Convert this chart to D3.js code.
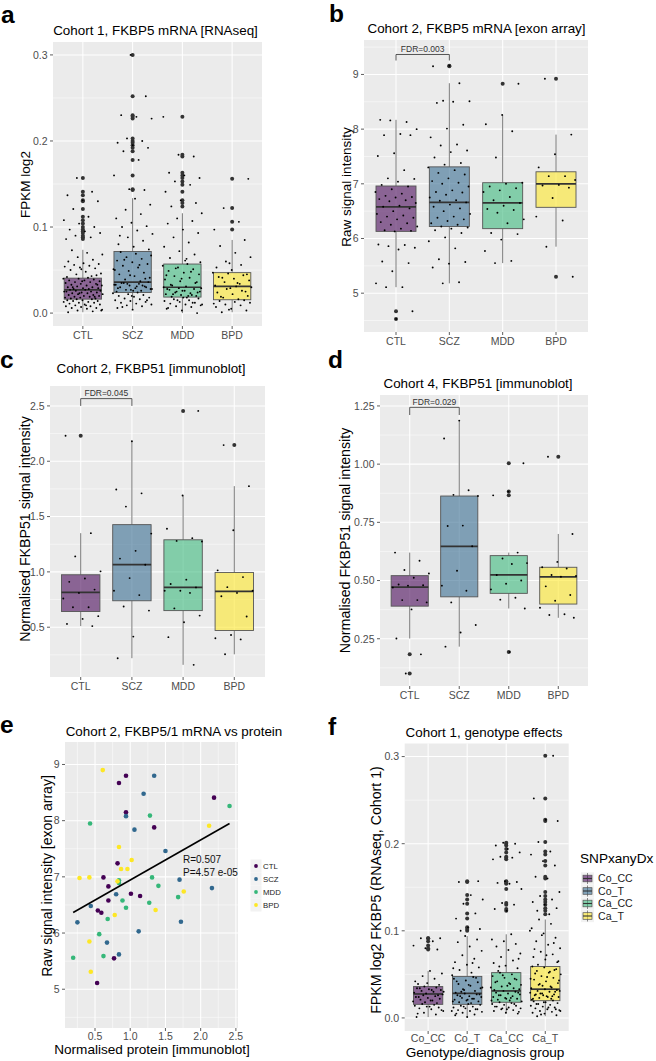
<!DOCTYPE html>
<html><head><meta charset="utf-8">
<script src="https://cdn.jsdelivr.net/npm/d3@7"></script>
<style>
body{margin:0;background:#fff;}
text{font-family:"Liberation Sans",Arial,Helvetica,sans-serif;}
</style></head><body>
<svg id="fig" width="656" height="1061"></svg>
<script>
// ---------------- DATA ----------------
const dxCats = ["CTL","SCZ","MDD","BPD"];
const snpCats = ["Co_CC","Co_T","Ca_CC","Ca_T"];
const groupColors = ["#440154","#31688E","#35B779","#FDE725"];

// Panel a: Cohort 1 FKBP5 mRNA (RNAseq), box stats [lo,q1,med,q3,hi]
const aTicks = [0,0.1,0.2,0.3];
const aBox = [[0.001,0.0162,0.027,0.0406,0.0735],[0.004,0.024,0.036,0.0716,0.1335],[0.0,0.0186,0.030,0.057,0.116],[0.001,0.0155,0.031,0.047,0.085]];
const aCTL = [0.001,0.002,0.003,0.004,0.005,0.006,0.006,0.007,0.008,0.008,0.009,0.010,0.010,0.011,0.012,0.012,0.013,0.013,0.014,0.014,0.015,0.015,0.016,0.016,0.003,0.009,
0.017,0.017,0.018,0.018,0.019,0.019,0.020,0.020,0.021,0.021,0.022,0.022,0.023,0.023,0.024,0.024,0.025,0.025,0.026,0.026,0.027,0.027,0.019,0.023,0.025,
0.028,0.028,0.029,0.029,0.030,0.030,0.031,0.032,0.032,0.033,0.034,0.034,0.035,0.036,0.036,0.037,0.038,0.038,0.039,0.040,0.040,0.041,0.030,0.033,0.037,
0.042,0.043,0.045,0.046,0.048,0.050,0.052,0.053,0.054,0.055,0.056,0.057,0.058,0.060,0.062,0.065,0.068,0.070,0.073,0.044,0.051,
0.086,0.088,0.090,0.093,0.095,0.097,0.100,0.104,0.108,0.112,0.121,0.130,0.131,0.137,0.141,0.157];
const aSCZ = [0.004,0.006,0.008,0.009,0.010,0.011,0.012,0.013,0.014,0.015,0.016,0.017,0.018,0.019,0.020,0.021,0.022,0.023,0.024,0.007,0.015,0.020,
0.025,0.026,0.027,0.028,0.029,0.030,0.031,0.032,0.033,0.034,0.035,0.036,0.026,0.029,0.032,0.034,0.028,0.031,0.035,0.030,0.027,0.033,
0.037,0.039,0.041,0.043,0.045,0.047,0.049,0.051,0.053,0.055,0.057,0.059,0.061,0.063,0.065,0.067,0.069,0.071,0.040,0.044,0.050,0.056,0.062,
0.074,0.077,0.080,0.084,0.088,0.092,0.096,0.100,0.101,0.105,0.110,0.115,0.120,0.126,0.133,0.090,
0.143,0.144,0.160,0.178,0.188,0.192,0.195,0.198,0.200,0.203,0.226,0.228,0.230,0.252,0.300];
const aMDD = [0.000,0.003,0.005,0.007,0.008,0.009,0.010,0.011,0.012,0.013,0.014,0.015,0.016,0.017,0.018,0.006,0.012,0.015,0.010,0.018,
0.019,0.020,0.021,0.022,0.023,0.024,0.025,0.026,0.027,0.028,0.029,0.030,0.020,0.022,0.024,0.026,0.028,0.021,0.025,0.029,
0.031,0.033,0.035,0.037,0.039,0.041,0.043,0.045,0.047,0.049,0.051,0.053,0.055,0.057,0.032,0.036,0.040,0.044,0.048,0.052,
0.059,0.061,0.064,0.068,0.072,0.077,0.082,0.088,0.093,0.097,0.104,0.107,0.110,0.116,0.063,
0.124,0.128,0.131,0.141,0.149,0.153,0.157,0.160,0.163,0.182,0.184,0.228];
const aBPD = [0.001,0.003,0.005,0.007,0.009,0.010,0.012,0.013,0.014,0.015,0.004,0.011,
0.016,0.018,0.020,0.022,0.024,0.026,0.028,0.030,0.031,0.019,0.025,0.029,
0.032,0.034,0.036,0.038,0.040,0.042,0.044,0.046,0.047,0.035,0.041,0.045,
0.050,0.053,0.056,0.060,0.065,0.070,0.078,0.085,0.058,
0.097,0.106,0.122,0.156];

// Panel b: Cohort 2 FKBP5 mRNA (exon array)
const bTicks = [5,6,7,8,9];
const bBox = [[5.11,6.13,6.58,6.96,8.17],[5.18,6.22,6.66,7.31,8.84],[5.55,6.18,6.65,7.02,8.26],[5.85,6.57,7.0,7.22,7.90]];
const bCTL = [8.17,8.13,8.16,8.00,7.91,7.89,7.89,7.56,7.51,7.25,7.10,7.09,7.04,6.98,
6.95,6.90,6.85,6.82,6.78,6.76,6.75,6.72,6.70,6.68,6.65,6.60,6.58,6.55,6.50,6.45,6.42,6.40,6.38,6.35,6.30,6.28,6.25,6.22,6.18,6.15,6.14,6.13,
5.89,5.88,5.86,5.83,5.80,5.58,5.55,5.40,5.18,5.11,5.11,4.67,4.53];
const bSCZ = [9.16,9.15,8.84,8.52,8.51,8.50,8.48,8.08,8.01,7.85,7.72,7.70,7.61,7.58,7.48,7.38,7.35,
7.30,7.25,7.20,7.17,7.10,7.05,7.02,7.00,6.95,6.88,6.85,6.84,6.80,6.75,6.70,6.69,6.66,6.62,6.58,6.55,6.50,6.45,6.40,6.38,6.35,6.32,6.28,6.25,6.22,
6.20,6.18,6.15,6.10,6.02,5.95,5.82,5.62,5.57,5.54,5.47,5.20,5.18];
const bMDD = [8.83,8.26,8.09,7.96,7.48,7.02,7.00,6.95,6.92,6.88,6.85,6.76,6.70,6.65,6.60,6.54,6.52,6.47,6.35,6.28,6.10,6.08,5.98,5.77,5.59,5.55];
const bBPD = [8.92,7.90,7.54,7.30,7.14,7.14,7.07,6.98,6.97,6.93,6.74,6.40,6.33,5.85,5.30];
const bFdr = {label:"FDR=0.003", from:"CTL", to:"SCZ", top:9.365, tip:9.255};

// Panel c: Cohort 2 FKBP51 immunoblot
const cTicks = [0.5,1.0,1.5,2.0,2.5];
const cBox = [[0.51,0.642,0.814,0.974,1.35],[0.22,0.739,1.065,1.427,2.18],[0.16,0.65,0.86,1.29,1.69],[0.255,0.47,0.823,0.995,1.775]];
const cCTL = [2.23,1.35,1.14,1.005,0.94,0.91,0.84,0.81,0.76,0.68,0.68,0.60,0.575,0.53,0.51];
const cSCZ = [2.18,1.745,1.71,1.59,1.346,1.19,1.12,1.065,0.944,0.83,0.79,0.687,0.65,0.415,0.22];
const cMDD = [2.455,1.69,1.39,1.305,1.28,1.275,0.93,0.89,0.86,0.83,0.83,0.81,0.67,0.605,0.545,0.41,0.16];
const cBPD = [2.146,1.775,1.376,1.014,0.953,0.862,0.83,0.81,0.78,0.597,0.43,0.40,0.39,0.255];
const cFdr = {label:"FDR=0.045", from:"CTL", to:"SCZ", top:2.566, tip:2.50};

// Panel d: Cohort 4 FKBP51 immunoblot
const dTicks = [0.25,0.50,0.75,1.00,1.25];
const dBox = [[0.251,0.39,0.472,0.521,0.62],[0.216,0.43,0.647,0.863,1.187],[0.38,0.445,0.524,0.607,0.62],[0.34,0.399,0.516,0.557,0.70]];
const dCTL = [0.62,0.585,0.545,0.53,0.512,0.483,0.48,0.478,0.47,0.416,0.416,0.406,0.376,0.251,0.183,0.101];
const dSCZ = [1.187,1.11,0.888,0.868,0.863,0.736,0.734,0.647,0.542,0.478,0.456,0.406,0.309,0.277,0.216];
const dMDD = [1.004,0.882,0.866,0.62,0.595,0.575,0.571,0.524,0.50,0.486,0.462,0.426,0.418,0.38,0.193];
const dBPD = [1.032,0.70,0.58,0.557,0.552,0.524,0.52,0.516,0.475,0.438,0.413,0.383,0.355,0.352,0.34];
const dFdr = {label:"FDR=0.029", from:"CTL", to:"SCZ", top:1.244, tip:1.211};

// Panel e: mRNA vs protein scatter
const eXTicks = [0.5,1.0,1.5,2.0,2.5];
const eYTicks = [5,6,7,8,9];
const eProtein = [0.84,0.94,0.94,1.34,0.82,0.62,0.69,0.69,1.01,1.14,0.54,0.59,0.77,0.53,2.19,
1.34,1.19,0.94,1.06,1.50,0.80,0.44,0.25,0.67,0.84,1.12,1.70,1.72,2.16,
0.43,1.28,2.41,1.31,1.40,0.84,0.84,0.89,0.94,1.27,1.68,0.68,0.56,0.62,0.19,
0.61,0.84,1.02,0.87,0.96,0.82,0.28,0.42,0.78,1.36,1.76,2.12,0.42,0.44];
const eMRNA = [8.67,8.80,8.15,7.88,7.24,6.99,6.83,6.58,6.70,6.66,6.40,6.36,5.55,5.11,8.41,
8.80,8.48,8.08,7.84,7.46,6.69,6.48,6.19,5.83,5.62,6.03,6.95,6.20,6.80,
7.95,8.09,8.26,6.99,6.84,6.89,6.94,6.58,6.45,6.54,6.64,6.25,5.98,5.59,5.56,
8.90,7.53,7.30,7.14,7.14,6.92,6.98,6.99,6.32,6.41,6.74,7.91,5.85,5.31];
const eDx = ["CTL","CTL","CTL","CTL","CTL","CTL","CTL","CTL","CTL","CTL","CTL","CTL","CTL","CTL","CTL",
"SCZ","SCZ","SCZ","SCZ","SCZ","SCZ","SCZ","SCZ","SCZ","SCZ","SCZ","SCZ","SCZ","SCZ",
"MDD","MDD","MDD","MDD","MDD","MDD","MDD","MDD","MDD","MDD","MDD","MDD","MDD","MDD","MDD",
"BPD","BPD","BPD","BPD","BPD","BPD","BPD","BPD","BPD","BPD","BPD","BPD","BPD","BPD"];
const eFit = {intercept:6.229, slope:0.714, xmin:0.19, xmax:2.41, r:"R=0.507", p:"P=4.57 e-05"};

// Panel f: genotype effects
const fTicks = [0,0.1,0.2,0.3];
const fBox = [[0.001,0.0156,0.0275,0.036,0.054],[0.001,0.0156,0.0282,0.0477,0.094],[0.005,0.018,0.031,0.052,0.096],[0.002,0.0198,0.033,0.059,0.113]];
const fCoCC = [0.001,0.004,0.006,0.008,0.010,0.011,0.012,0.013,0.014,0.015,0.016,0.009,0.013,0.005,
0.017,0.018,0.019,0.020,0.021,0.022,0.023,0.024,0.025,0.026,0.027,0.020,0.024,0.026,
0.028,0.029,0.030,0.031,0.032,0.033,0.034,0.035,0.036,0.030,0.032,0.034,
0.038,0.040,0.042,0.045,0.048,0.051,0.054,0.039,
0.0785,0.080,0.083,0.088,0.0915,0.0915];
const fCoT = [0.001,0.003,0.004,0.006,0.007,0.008,0.009,0.010,0.011,0.012,0.013,0.014,0.015,0.016,0.005,0.010,0.013,0.008,
0.017,0.018,0.019,0.020,0.021,0.022,0.023,0.024,0.025,0.026,0.027,0.028,0.019,0.022,0.025,0.027,0.021,
0.029,0.031,0.033,0.035,0.037,0.039,0.041,0.043,0.045,0.047,0.030,0.034,0.038,0.042,0.046,0.032,
0.049,0.052,0.055,0.058,0.061,0.064,0.068,0.072,0.077,0.082,0.087,0.090,0.094,0.057,0.063,
0.100,0.102,0.104,0.114,0.120,0.131,0.136,0.141,0.156,0.157];
const fCaCC = [0.005,0.006,0.008,0.009,0.010,0.011,0.012,0.013,0.014,0.015,0.016,0.017,0.018,0.007,0.010,0.013,0.016,0.011,
0.019,0.020,0.021,0.022,0.023,0.024,0.025,0.026,0.027,0.028,0.029,0.030,0.031,0.020,0.023,0.026,0.029,0.022,
0.032,0.034,0.036,0.038,0.040,0.042,0.044,0.046,0.048,0.050,0.052,0.033,0.037,0.041,0.045,0.049,0.035,0.039,
0.054,0.057,0.060,0.063,0.066,0.070,0.074,0.078,0.082,0.085,0.088,0.090,0.096,0.059,0.068,
0.123,0.125,0.130,0.132,0.148,0.154,0.155,0.156,0.157,0.182,0.184,0.185,0.190,0.194,0.198,0.200,0.201];
const fCaT = [0.002,0.003,0.005,0.006,0.007,0.008,0.009,0.010,0.011,0.012,0.013,0.014,0.015,0.016,0.017,0.018,0.019,0.020,0.004,0.008,0.012,0.016,0.010,0.018,
0.021,0.022,0.023,0.024,0.025,0.026,0.027,0.028,0.029,0.030,0.031,0.032,0.033,0.022,0.025,0.028,0.031,0.024,0.027,0.030,0.026,
0.034,0.036,0.038,0.040,0.042,0.044,0.046,0.048,0.050,0.052,0.054,0.056,0.058,0.059,0.035,0.039,0.043,0.047,0.051,0.055,0.037,0.045,0.053,
0.061,0.064,0.067,0.070,0.073,0.076,0.080,0.084,0.088,0.092,0.097,0.103,0.108,0.113,0.065,0.072,0.079,0.086,0.095,0.100,
0.119,0.123,0.126,0.130,0.133,0.136,0.140,0.1445,0.160,0.162,0.175,0.180,0.1875,0.191,0.202,0.226,0.2275,0.252,0.301];

// ---------------- DRAWING ----------------
const svg = d3.select("#fig");
const TICKCOL = "#4D4D4D";

function minorBreaks(ticks, domain){
  const s = ticks[1]-ticks[0], out = [];
  const lo = Math.min(domain[0],domain[1]), hi = Math.max(domain[0],domain[1]);
  for (let i=-1;i<ticks.length;i++){
    const m = ticks[0] + (i+0.5)*s;
    if (m>lo && m<hi) out.push(m);
  }
  return out;
}

function panelLabel(t,x,y){
  svg.append("text").attr("x",x).attr("y",y).attr("font-size",24.5).attr("font-weight","bold").attr("fill","#000").text(t);
}

function yAxis(g, y, ticks, fmt, x0, size){
  g.selectAll(null).data(ticks).join("line").attr("x1",x0-3).attr("x2",x0).attr("y1",d=>y(d)).attr("y2",d=>y(d)).attr("stroke","#333").attr("stroke-width",0.8);
  g.selectAll(null).data(ticks).join("text").attr("x",x0-5.5).attr("y",d=>y(d)).attr("dy","0.36em").attr("text-anchor","end")
    .attr("font-size",size||10.5).attr("fill",TICKCOL).text(d=>fmt(d));
}

function boxPanel(o){
  const g = svg.append("g");
  const y = d3.scaleLinear().domain(o.domain).range([o.y1,o.y0]);
  const x = d3.scalePoint().domain(o.cats).range([o.x0,o.x1]).padding(0.6);
  const step = x.step();
  g.append("rect").attr("x",o.x0).attr("y",o.y0).attr("width",o.x1-o.x0).attr("height",o.y1-o.y0).attr("fill","#EBEBEB");
  g.selectAll(null).data(minorBreaks(o.ticks,o.domain)).join("line").attr("x1",o.x0).attr("x2",o.x1).attr("y1",d=>y(d)).attr("y2",d=>y(d)).attr("stroke","#fff").attr("stroke-width",0.5);
  g.selectAll(null).data(o.ticks).join("line").attr("x1",o.x0).attr("x2",o.x1).attr("y1",d=>y(d)).attr("y2",d=>y(d)).attr("stroke","#fff").attr("stroke-width",1.05);
  g.selectAll(null).data(o.cats).join("line").attr("x1",d=>x(d)).attr("x2",d=>x(d)).attr("y1",o.y0).attr("y2",o.y1).attr("stroke","#fff").attr("stroke-width",1.05);
  const w = 0.75*step;
  o.box.forEach((b,i)=>{
    const cx = x(o.cats[i]); const [lo,q1,med,q3,hi] = b;
    g.append("line").attr("x1",cx).attr("x2",cx).attr("y1",y(q3)).attr("y2",y(hi)).attr("stroke","#6a6a6a").attr("stroke-width",0.9);
    g.append("line").attr("x1",cx).attr("x2",cx).attr("y1",y(q1)).attr("y2",y(lo)).attr("stroke","#6a6a6a").attr("stroke-width",0.9);
    g.append("rect").attr("x",cx-w/2).attr("y",y(q3)).attr("width",w).attr("height",y(q1)-y(q3))
      .attr("fill",o.colors[i]).attr("fill-opacity",0.58).attr("stroke","#555").attr("stroke-width",0.9);
    g.append("line").attr("x1",cx-w/2).attr("x2",cx+w/2).attr("y1",y(med)).attr("y2",y(med)).attr("stroke","#333").attr("stroke-width",1.7);
    const outl = o.points[i].filter(v=>v>hi+1e-9||v<lo-1e-9);
    g.selectAll(null).data(outl).join("circle").attr("cx",cx).attr("cy",d=>y(d)).attr("r",2).attr("fill","#333");
  });
  o.points.forEach((arr,i)=>{
    const cx = x(o.cats[i]);
    g.selectAll(null).data(arr).join("circle")
      .attr("cx",(d,k)=>cx + (((k*0.6180339887 + i*0.37 + 0.13) % 1) - 0.5)*0.8*step)
      .attr("cy",d=>y(d)).attr("r",0.95).attr("fill","#000");
  });
  yAxis(g,y,o.ticks,o.fmt,o.x0,o.tickSize);
  g.selectAll(null).data(o.cats).join("line").attr("x1",d=>x(d)).attr("x2",d=>x(d)).attr("y1",o.y1).attr("y2",o.y1+3).attr("stroke","#333").attr("stroke-width",0.8);
  g.selectAll(null).data(o.cats).join("text").attr("x",d=>x(d)).attr("y",o.y1+(o.xlabOff||12.8)).attr("text-anchor","middle")
    .attr("font-size",o.tickSize||10.5).attr("fill",TICKCOL).text(d=>d);
  g.append("text").attr("x",o.titleX).attr("y",o.titleY).attr("text-anchor","middle").attr("font-size",13.4).attr("fill","#000").text(o.title);
  g.append("text").attr("transform",`translate(${o.ytX},${o.ytY}) rotate(-90)`).attr("text-anchor","middle").attr("dy","0.36em")
    .attr("font-size",o.ytSize||13.5).attr("fill","#000").text(o.ytitle);
  if (o.xtitle) g.append("text").attr("x",o.xtX).attr("y",o.xtY).attr("text-anchor","middle").attr("font-size",o.xtSize||13.5).attr("fill","#000").text(o.xtitle);
  if (o.fdr){
    const f = o.fdr, xa = x(f.from), xb = x(f.to);
    g.append("path").attr("d",`M${xa},${y(f.tip)}V${y(f.top)}H${xb}V${y(f.tip)}`).attr("fill","none").attr("stroke","#444").attr("stroke-width",0.9);
    g.append("text").attr("x",(xa+xb)/2).attr("y",y(f.top)-2.8).attr("text-anchor","middle").attr("font-size",8.5).attr("fill","#333").text(f.label);
  }
  return {x,y};
}

// a
panelLabel("a",1,22.5);
boxPanel({x0:53,x1:262,y0:42,y1:326,domain:[-0.015,0.315],ticks:aTicks,fmt:d3.format(".1f"),cats:dxCats,box:aBox,
  points:[aCTL,aSCZ,aMDD,aBPD],colors:groupColors,title:"Cohort 1, FKBP5 mRNA [RNAseq]",titleX:155.5,titleY:34.5,
  ytitle:"FPKM log2",ytX:25,ytY:184.5});
// b
panelLabel("b",329,22);
boxPanel({x0:364,x1:588,y0:40,y1:332,domain:[4.29,9.63],ticks:bTicks,fmt:d3.format("d"),cats:dxCats,box:bBox,
  points:[bCTL,bSCZ,bMDD,bBPD],colors:groupColors,title:"Cohort 2, FKBP5 mRNA [exon array]",titleX:476.5,titleY:32.7,
  ytitle:"Raw signal intensity",ytX:346,ytY:187,fdr:bFdr});
// c
panelLabel("c",0,367.7);
boxPanel({x0:50,x1:265,y0:386,y1:677,domain:[0.05,2.68],ticks:cTicks,fmt:d3.format(".1f"),cats:dxCats,box:cBox,
  points:[cCTL,cSCZ,cMDD,cBPD],colors:groupColors,title:"Cohort 2, FKBP51 [immunoblot]",titleX:151,titleY:373,
  ytitle:"Normalised FKBP51 signal intensity",ytX:25,ytY:529,ytSize:14.2,fdr:cFdr});
// d
panelLabel("d",328,367.7);
boxPanel({x0:380,x1:588,y0:395,y1:686,domain:[0.047,1.297],ticks:dTicks,fmt:d3.format(".2f"),cats:dxCats,box:dBox,
  points:[dCTL,dSCZ,dMDD,dBPD],colors:groupColors,title:"Cohort 4, FKBP51 [immunoblot]",titleX:478,titleY:388,
  ytitle:"Normalised FKBP51 signal intensity",ytX:345,ytY:540.5,ytSize:14.2,fdr:dFdr});

// e scatter
(function(){
  panelLabel("e",0,733);
  const g = svg.append("g");
  const x0=65,x1=238,y0=742,y1=1028;
  const x = d3.scaleLinear().domain([0.074,2.53]).range([x0,x1]);
  const y = d3.scaleLinear().domain([4.31,9.40]).range([y1,y0]);
  const col = d3.scaleOrdinal().domain(dxCats).range(groupColors);
  g.append("rect").attr("x",x0).attr("y",y0).attr("width",x1-x0).attr("height",y1-y0).attr("fill","#EBEBEB");
  g.selectAll(null).data(minorBreaks(eYTicks,y.domain())).join("line").attr("x1",x0).attr("x2",x1).attr("y1",d=>y(d)).attr("y2",d=>y(d)).attr("stroke","#fff").attr("stroke-width",0.5);
  g.selectAll(null).data(minorBreaks(eXTicks,x.domain())).join("line").attr("y1",y0).attr("y2",y1).attr("x1",d=>x(d)).attr("x2",d=>x(d)).attr("stroke","#fff").attr("stroke-width",0.5);
  g.selectAll(null).data(eYTicks).join("line").attr("x1",x0).attr("x2",x1).attr("y1",d=>y(d)).attr("y2",d=>y(d)).attr("stroke","#fff").attr("stroke-width",1.05);
  g.selectAll(null).data(eXTicks).join("line").attr("y1",y0).attr("y2",y1).attr("x1",d=>x(d)).attr("x2",d=>x(d)).attr("stroke","#fff").attr("stroke-width",1.05);
  g.selectAll(null).data(eProtein).join("circle").attr("cx",d=>x(d)).attr("cy",(d,i)=>y(eMRNA[i])).attr("r",2.3).attr("fill",(d,i)=>col(eDx[i]));
  g.append("line").attr("x1",x(eFit.xmin)).attr("y1",y(eFit.intercept+eFit.slope*eFit.xmin))
    .attr("x2",x(eFit.xmax)).attr("y2",y(eFit.intercept+eFit.slope*eFit.xmax)).attr("stroke","#000").attr("stroke-width",1.6);
  g.append("text").attr("x",183).attr("y",863).attr("font-size",10).attr("fill","#111").text(eFit.r);
  g.append("text").attr("x",183).attr("y",876).attr("font-size",10).attr("fill","#111").text(eFit.p);
  yAxis(g,y,eYTicks,d3.format("d"),x0);
  g.selectAll(null).data(eXTicks).join("line").attr("x1",d=>x(d)).attr("x2",d=>x(d)).attr("y1",y1).attr("y2",y1+3).attr("stroke","#333").attr("stroke-width",0.8);
  g.selectAll(null).data(eXTicks).join("text").attr("x",d=>x(d)).attr("y",y1+12.3).attr("text-anchor","middle").attr("font-size",10.5).attr("fill",TICKCOL).text(d=>d3.format(".1f")(d));
  g.append("text").attr("x",174).attr("y",735.7).attr("text-anchor","middle").attr("font-size",13.4).text("Cohort 2, FKBP5/1 mRNA vs protein");
  g.append("text").attr("transform","translate(47,876) rotate(-90)").attr("text-anchor","middle").attr("dy","0.36em").attr("font-size",14).text("Raw signal intensity [exon array]");
  g.append("text").attr("x",152).attr("y",1054).attr("text-anchor","middle").attr("font-size",13.6).text("Normalised protein [immunoblot]");
  // legend
  const lg = g.append("g");
  dxCats.forEach((c,i)=>{
    const cy = 866 + i*13;
    lg.append("rect").attr("x",250.5).attr("y",cy-6.5).attr("width",11).attr("height",13).attr("fill","#F2F2F2");
    lg.append("circle").attr("cx",256).attr("cy",cy).attr("r",1.9).attr("fill",groupColors[i]);
    lg.append("text").attr("x",263).attr("y",cy).attr("dy","0.36em").attr("font-size",7.8).attr("fill","#222").text(c);
  });
})();

// f
panelLabel("f",328,735);
boxPanel({x0:404.7,x1:568.7,y0:743.5,y1:1031,domain:[-0.015,0.315],ticks:fTicks,fmt:d3.format(".1f"),cats:snpCats,box:fBox,
  points:[fCoCC,fCoT,fCaCC,fCaT],colors:groupColors,title:"Cohort 1, genotype effects",titleX:484,titleY:736.7,
  ytitle:"FPKM log2 FKBP5 (RNAseq, Cohort 1)",ytX:376,ytY:890,ytSize:14.2,tickSize:10.6,xlabOff:11.3,
  xtitle:"Genotype/diagnosis group",xtX:485,xtY:1056.5,xtSize:13.6});
(function(){
  const g = svg.append("g");
  g.append("text").attr("x",580).attr("y",863.3).attr("font-size",13.6).attr("fill","#000").text("SNPxanyDx");
  snpCats.forEach((c,i)=>{
    const cy = 878.5 + i*12.5;
    g.append("rect").attr("x",581).attr("y",cy-6.2).attr("width",13).attr("height",12.4).attr("fill","#F2F2F2");
    g.append("line").attr("x1",587.5).attr("x2",587.5).attr("y1",cy-5.5).attr("y2",cy+5.5).attr("stroke","#6a6a6a").attr("stroke-width",0.8);
    g.append("rect").attr("x",583).attr("y",cy-3.3).attr("width",9).attr("height",6.6).attr("fill",groupColors[i]).attr("fill-opacity",0.58).attr("stroke","#555").attr("stroke-width",0.7);
    g.append("line").attr("x1",583).attr("x2",592).attr("y1",cy).attr("y2",cy).attr("stroke","#333").attr("stroke-width",1.1);
    g.append("text").attr("x",598).attr("y",cy).attr("dy","0.36em").attr("font-size",10.6).attr("fill","#222").text(c);
  });
})();
</script>
</body></html>
